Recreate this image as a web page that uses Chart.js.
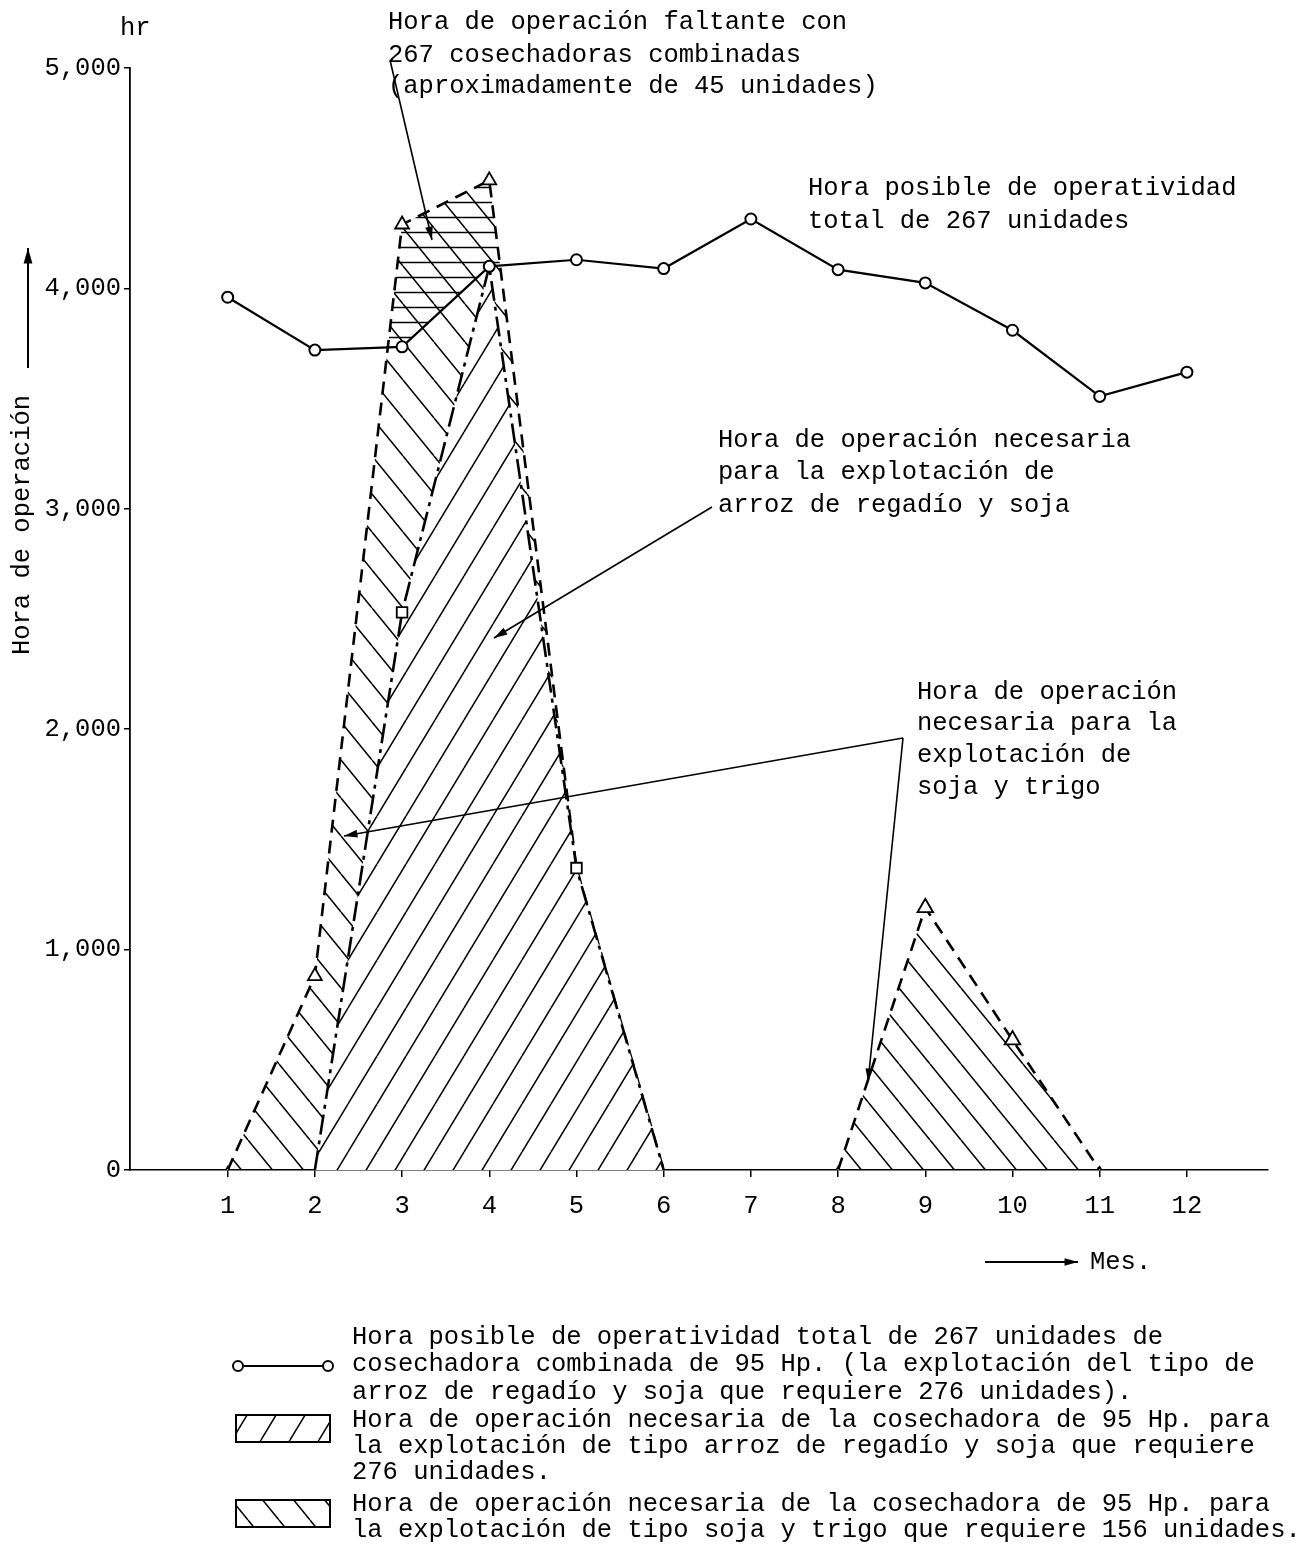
<!DOCTYPE html>
<html>
<head>
<meta charset="utf-8">
<script src="https://cdn.jsdelivr.net/npm/chart.js@4.4.1/dist/chart.umd.min.js"></script>
<style>
  html, body { margin: 0; padding: 0; background: #fff; }
  canvas { display: block; }
</style>
</head>
<body>
<canvas id="myChart" width="1316" height="1557"></canvas>
<script>
// meses
var months = [1, 2, 3, 4, 5, 6, 7, 8, 9, 10, 11, 12];
// hora posible de operatividad total de 267 unidades
var operatividad = [3960, 3720, 3735, 4100, 4130, 4090, 4315, 4085, 4025, 3810, 3510, 3620];
// hora necesaria: arroz de regadio y soja
var arrozSoja = [null, 0, 2530, 4100, 1370, 0, null, null, null, null, null, null];
// hora necesaria: soja y trigo
var sojaTrigo = [0, 880, 4290, 4490, 1370, 0, null, 0, 1190, 590, 0, null];
var yTicks = [0, 1000, 2000, 3000, 4000, 5000];

var FONT = '25.5px "Liberation Mono", "DejaVu Sans Mono", monospace';

function points(values) {
  return months.map(function (m, i) { return { x: m, y: values[i] }; });
}

// hatch patterns
function hatch(w, h, bg, draw) {
  var c = document.createElement('canvas');
  c.width = w; c.height = h;
  var g = c.getContext('2d');
  if (bg) { g.fillStyle = bg; g.fillRect(0, 0, w, h); }
  g.strokeStyle = '#000';
  g.lineWidth = 1.5;
  g.beginPath();
  draw(g, w, h);
  g.stroke();
  return g.createPattern(c, 'repeat');
}
var slash = hatch(29, 48, '#fff', function (g, w, h) {
  for (var k = -1; k <= 1; k++) { g.moveTo(k * w, h); g.lineTo(k * w + w, 0); }
});
var backslash = hatch(31, 38, null, function (g, w, h) {
  for (var k = -1; k <= 1; k++) { g.moveTo(k * w, 0); g.lineTo(k * w + w, h); }
});
var horiz = hatch(8, 15, null, function (g, w, h) {
  g.moveTo(0, 7.5); g.lineTo(w, 7.5);
});

function arrow(g, x1, y1, x2, y2, size) {
  g.beginPath(); g.moveTo(x1, y1); g.lineTo(x2, y2); g.stroke();
  var a = Math.atan2(y2 - y1, x2 - x1);
  g.beginPath();
  g.moveTo(x2, y2);
  g.lineTo(x2 - size * Math.cos(a - 0.28), y2 - size * Math.sin(a - 0.28));
  g.lineTo(x2 - size * Math.cos(a + 0.28), y2 - size * Math.sin(a + 0.28));
  g.closePath(); g.fill();
}

function textBlock(g, x, ys, lines) {
  lines.forEach(function (t, i) { g.fillText(t, x, ys[i]); });
}

// texts, arrows and legend drawn on top
var notesPlugin = {
  id: 'notes',
  afterDraw: function (chart) {
    var g = chart.ctx;
    g.save();
    g.fillStyle = '#000';
    g.strokeStyle = '#000';
    g.font = FONT;
    g.textBaseline = 'middle';
    g.textAlign = 'left';

    g.fillText('hr', 120, 28);

    textBlock(g, 388, [22, 55, 86], ['Hora de operación faltante con', '267 cosechadoras combinadas', '(aproximadamente de 45 unidades)']);
    textBlock(g, 808, [188, 221], ['Hora posible de operatividad', 'total de 267 unidades']);
    textBlock(g, 718, [440, 472, 505], ['Hora de operación necesaria', 'para la explotación de', 'arroz de regadío y soja']);
    textBlock(g, 917, [692, 723, 755, 787], ['Hora de operación', 'necesaria para la', 'explotación de', 'soja y trigo']);

    g.lineWidth = 1.6;
    arrow(g, 390, 60, 432, 240, 14);
    arrow(g, 712, 507, 494, 638, 14);
    arrow(g, 903, 738, 344, 836, 14);
    arrow(g, 903, 738, 868, 1082, 14);

    // y axis title with arrow
    g.lineWidth = 2;
    arrow(g, 28, 368, 28, 248, 16);
    g.save();
    g.translate(22, 525);
    g.rotate(-Math.PI / 2);
    g.textAlign = 'center';
    g.fillText('Hora de operación', 0, 0);
    g.restore();

    // x axis title
    arrow(g, 985, 1262, 1078, 1262, 14);
    g.fillText('Mes.', 1090, 1262);

    // legend
    g.lineWidth = 2;
    g.beginPath(); g.moveTo(238, 1366); g.lineTo(328, 1366); g.stroke();
    [238, 328].forEach(function (cx) {
      g.beginPath(); g.arc(cx, 1366, 5, 0, Math.PI * 2);
      g.fillStyle = '#fff'; g.fill(); g.stroke();
    });
    g.fillStyle = slash;
    g.fillRect(236, 1415, 94, 27);
    g.strokeRect(236, 1415, 94, 27);
    g.fillStyle = backslash;
    g.fillRect(236, 1500, 94, 27);
    g.strokeRect(236, 1500, 94, 27);

    g.fillStyle = '#000';
    textBlock(g, 352, [1337, 1364, 1392], [
      'Hora posible de operatividad total de 267 unidades de',
      'cosechadora combinada de 95 Hp. (la explotación del tipo de',
      'arroz de regadío y soja que requiere 276 unidades).'
    ]);
    textBlock(g, 352, [1420, 1446, 1472], [
      'Hora de operación necesaria de la cosechadora de 95 Hp. para',
      'la explotación de tipo arroz de regadío y soja que requiere',
      '276 unidades.'
    ]);
    textBlock(g, 352, [1504, 1530], [
      'Hora de operación necesaria de la cosechadora de 95 Hp. para',
      'la explotación de tipo soja y trigo que requiere 156 unidades.'
    ]);
    g.restore();
  }
};

var ctx = document.getElementById('myChart').getContext('2d');
var chart = new Chart(ctx, {
  type: 'line',
  data: {
    datasets: [
      {
        label: 'Hora posible de operatividad',
        data: points(operatividad),
        order: 0,
        fill: false,
        borderColor: '#000',
        borderWidth: 2.2,
        pointStyle: 'circle',
        pointRadius: 5.5,
        pointBorderWidth: 2,
        pointBackgroundColor: '#fff',
        pointBorderColor: '#000'
      },
      {
        label: 'Arroz de regadío y soja',
        data: points(arrozSoja),
        order: 1,
        fill: 'origin',
        backgroundColor: slash,
        borderColor: '#000',
        borderWidth: 2.6,
        borderDash: [20, 6, 4, 6],
        pointStyle: 'rect',
        pointRadius: [0, 0, 7.5, 0, 7.5, 0, 0, 0, 0, 0, 0, 0],
        pointBorderWidth: 1.8,
        pointBackgroundColor: '#fff',
        pointBorderColor: '#000'
      },
      {
        label: 'faltante',
        data: points(sojaTrigo),
        order: 2,
        fill: { target: 0, above: horiz, below: 'rgba(0,0,0,0)' },
        borderColor: 'rgba(0,0,0,0)',
        borderWidth: 0,
        pointRadius: 0
      },
      {
        label: 'Soja y trigo',
        data: points(sojaTrigo),
        order: 3,
        fill: 'origin',
        backgroundColor: backslash,
        borderColor: '#000',
        borderWidth: 2.6,
        borderDash: [13, 8],
        pointStyle: 'triangle',
        pointRadius: [3, 8, 8, 8, 0, 0, 0, 3, 9, 9, 3, 0],
        pointBorderWidth: 1.8,
        pointBackgroundColor: '#fff',
        pointBorderColor: '#000'
      }
    ]
  },
  options: {
    responsive: false,
    animation: false,
    layout: { padding: { left: 0, top: 68, right: 48, bottom: 0 } },
    plugins: {
      legend: { display: false },
      tooltip: { enabled: false }
    },
    scales: {
      x: {
        type: 'linear',
        min: -0.12,
        max: 12.93,
        afterBuildTicks: function (s) { s.ticks = months.map(function (m) { return { value: m }; }); },
        afterFit: function (s) { s.height = 387; },
        grid: { drawOnChartArea: false, drawTicks: true, tickLength: 7, color: '#000', lineWidth: 1.5 },
        border: { display: true, color: '#000', width: 1.5 },
        ticks: { color: '#000', font: { family: '"Liberation Mono"', size: 25.5 }, padding: 14, maxRotation: 0, autoSkip: false }
      },
      y: {
        min: 0,
        max: 5000,
        afterBuildTicks: function (s) { s.ticks = yTicks.map(function (v) { return { value: v }; }); },
        afterFit: function (s) { s.width = 130; },
        grid: { drawOnChartArea: false, drawTicks: true, tickLength: 6, color: '#000', lineWidth: 1.5 },
        border: { display: true, color: '#000', width: 1.8 },
        ticks: {
          color: '#000',
          font: { family: '"Liberation Mono"', size: 25.5 },
          padding: 3,
          callback: function (v) { return v.toLocaleString('en-US'); }
        }
      }
    }
  },
  plugins: [notesPlugin]
});
</script>
</body>
</html>
